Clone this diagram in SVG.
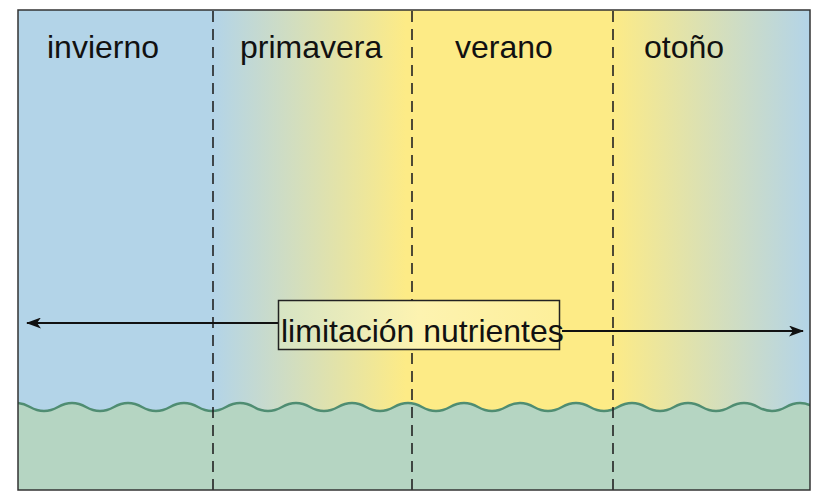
<svg xmlns="http://www.w3.org/2000/svg" width="814" height="492" viewBox="0 0 814 492">
<defs>
<linearGradient id="sky" gradientUnits="userSpaceOnUse" x1="18" y1="0" x2="810" y2="0">
<stop offset="0" stop-color="#b3d4e8"/>
<stop offset="0.246" stop-color="#b3d4e8"/>
<stop offset="0.49" stop-color="#fdeb86"/>
<stop offset="0.75" stop-color="#fdeb86"/>
<stop offset="1" stop-color="#b3d4e8"/>
</linearGradient>
<linearGradient id="box" gradientUnits="userSpaceOnUse" x1="278" y1="0" x2="560" y2="0">
<stop offset="0" stop-color="#d6e4c4"/>
<stop offset="0.5" stop-color="#fdf3b0"/>
<stop offset="1" stop-color="#fdef9a"/>
</linearGradient>
<clipPath id="frame"><rect x="18" y="10" width="792" height="480"/></clipPath>
<marker id="ah" viewBox="0 0 15 11" refX="14" refY="5.5" markerWidth="15" markerHeight="11" markerUnits="userSpaceOnUse" orient="auto-start-reverse">
<path d="M0,0 L15,5.5 L0,11 L4,5.5 Z" fill="#111"/>
</marker>
<style>
.season{font-family:"Liberation Sans",Arial,sans-serif;font-size:32px;fill:#111}
.div{stroke:#222;stroke-width:1.6;stroke-dasharray:11,7;fill:none}
</style>
</defs>
<g id="background" clip-path="url(#frame)">
<rect x="18" y="10" width="792" height="480" fill="url(#sky)"/>
<path d="M2,407 q14,-8 28,0 t28,0 t28,0 t28,0 t28,0 t28,0 t28,0 t28,0 t28,0 t28,0 t28,0 t28,0 t28,0 t28,0 t28,0 t28,0 t28,0 t28,0 t28,0 t28,0 t28,0 t28,0 t28,0 t28,0 t28,0 t28,0 t28,0 t28,0 t28,0 L814,492 L2,492 Z" fill="#b5d5c2"/>
<path d="M2,407 q14,-8 28,0 t28,0 t28,0 t28,0 t28,0 t28,0 t28,0 t28,0 t28,0 t28,0 t28,0 t28,0 t28,0 t28,0 t28,0 t28,0 t28,0 t28,0 t28,0 t28,0 t28,0 t28,0 t28,0 t28,0 t28,0 t28,0 t28,0 t28,0 t28,0" fill="none" stroke="#4f8d72" stroke-width="2.5"/>
</g>
<g id="dividers">
<line class="div" x1="213" y1="11" x2="213" y2="490"/>
<line class="div" x1="412" y1="11" x2="412" y2="490"/>
<line class="div" x1="613" y1="11" x2="613" y2="490"/>
</g>
<g id="labels">
<text class="season" x="47" y="58">invierno</text>
<text class="season" x="240" y="58">primavera</text>
<text class="season" x="455" y="58">verano</text>
<text class="season" x="644" y="58">otoño</text>
</g>
<g id="connectors">
<line x1="27" y1="323" x2="278" y2="323" stroke="#111" stroke-width="1.8" marker-start="url(#ah)"/>
<line x1="562" y1="331" x2="803" y2="331" stroke="#111" stroke-width="1.8" marker-end="url(#ah)"/>
</g>
<g id="nutrient-box">
<rect x="278.5" y="300.5" width="281" height="49" fill="url(#box)" stroke="#222" stroke-width="1.5"/>
<text x="281" y="342" font-family="'Liberation Sans',Arial,sans-serif" font-size="32" fill="#111">limitación nutrientes</text>
</g>
<rect x="18" y="10" width="792" height="480" fill="none" stroke="#333" stroke-width="1.5"/>
</svg>
